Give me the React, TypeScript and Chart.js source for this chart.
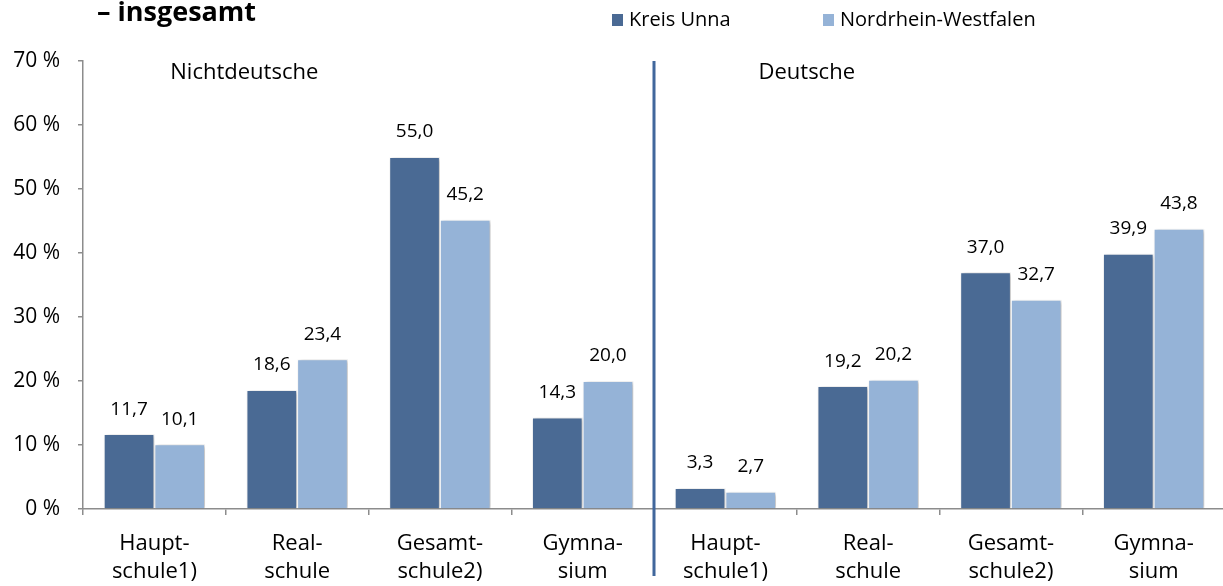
import React, { useEffect, useRef } from "react";
import { Chart, registerables } from "chart.js";

Chart.register(...registerables);

const categories: string[][] = [
  ["Haupt-", "schule1)"],
  ["Real-", "schule"],
  ["Gesamt-", "schule2)"],
  ["Gymna-", "sium"],
  ["Haupt-", "schule1)"],
  ["Real-", "schule"],
  ["Gesamt-", "schule2)"],
  ["Gymna-", "sium"],
];
const kreisUnna: number[] = [11.7, 18.6, 55.0, 14.3, 3.3, 19.2, 37.0, 39.9];
const nrw: number[] = [10.1, 23.4, 45.2, 20.0, 2.7, 20.2, 32.7, 43.8];
const seriesNames: string[] = ["Kreis Unna", "Nordrhein-Westfalen"];
const groupLabels: string[] = ["Nichtdeutsche", "Deutsche"];
const titleText = "– insgesamt";
const yTicks: number[] = [0, 10, 20, 30, 40, 50, 60, 70];

const DARK = "#4A6A94";
const LIGHT = "#95B3D7";
const FONT = "'Open Sans', 'Noto Sans', sans-serif";

const CANVAS_W = 1240;
const CANVAS_H = 586;

export default function App() {
  const ref = useRef<HTMLCanvasElement | null>(null);

  useEffect(() => {
    document.body.style.margin = "0";
    const canvas = ref.current!;
    const overlay = {
      id: "overlay",
      beforeDatasetsDraw(chart: any) {
        const ctx = chart.ctx;
        ctx.save();
        ctx.shadowColor = "rgba(0,0,0,0.28)";
        ctx.shadowBlur = 4;
        ctx.shadowOffsetX = 2;
        ctx.shadowOffsetY = 1;
      },
      afterDatasetsDraw(chart: any) {
        const ctx = chart.ctx;
        ctx.restore();
        ctx.save();
        const x = chart.scales.x;
        const area = chart.chartArea;
        // value labels
        ctx.fillStyle = "#000";
        ctx.font = `19px ${FONT}`;
        ctx.textAlign = "center";
        ctx.textBaseline = "middle";
        chart.data.datasets.forEach((ds: any, di: number) => {
          const meta = chart.getDatasetMeta(di);
          meta.data.forEach((el: any, i: number) => {
            const v = ds.data[i] as number;
            ctx.fillText(v.toFixed(1).replace(".", ","), el.x, el.y - 25);
          });
        });
        // divider
        const dx = (x.getPixelForValue(3) + x.getPixelForValue(4)) / 2;
        ctx.strokeStyle = "#41679C";
        ctx.lineWidth = 3;
        ctx.beginPath();
        ctx.moveTo(dx, area.top);
        ctx.lineTo(dx, 576);
        ctx.stroke();
        // group labels
        ctx.font = `22px ${FONT}`;
        ctx.fillStyle = "#000";
        const g1 = x.getPixelForValue(0.63);
        const g2 = x.getPixelForValue(4.57);
        ctx.fillText(groupLabels[0], g1, area.top + 12);
        ctx.fillText(groupLabels[1], g2, area.top + 12);
        // title
        ctx.font = `bold 27px ${FONT}`;
        ctx.textAlign = "left";
        ctx.textBaseline = "alphabetic";
        ctx.fillText(titleText, 97, 21);
        // legend
        ctx.font = `20px ${FONT}`;
        ctx.textBaseline = "middle";
        const legendX = [612, 823];
        chart.data.datasets.forEach((ds: any, di: number) => {
          ctx.fillStyle = ds.backgroundColor;
          ctx.fillRect(legendX[di], 14, 11, 12);
          ctx.fillStyle = "#000";
          ctx.fillText(ds.label, legendX[di] + 17, 20);
        });
        ctx.restore();
      },
    };

    const chart = new Chart(canvas, {
      type: "bar",
      data: {
        labels: categories,
        datasets: [
          {
            label: seriesNames[0],
            data: kreisUnna,
            backgroundColor: DARK,
            borderColor: "#ffffff",
            borderWidth: 1,
            categoryPercentage: 0.71,
            barPercentage: 1.0,
          },
          {
            label: seriesNames[1],
            data: nrw,
            backgroundColor: LIGHT,
            borderColor: "#ffffff",
            borderWidth: 1,
            categoryPercentage: 0.71,
            barPercentage: 1.0,
          },
        ],
      },
      options: {
        animation: false,
        responsive: false,
        layout: { padding: { left: 0, top: 61, right: CANVAS_W - 1225, bottom: 0 } },
        plugins: {
          legend: { display: false },
          title: { display: false },
          tooltip: { enabled: false },
        },
        scales: {
          x: {
            grid: {
              display: true,
              drawOnChartArea: false,
              drawTicks: true,
              tickLength: 6,
              color: "#8C8C8C",
              lineWidth: 1.5,
              offset: true,
            },
            border: { display: true, color: "#8C8C8C", width: 1.5 },
            ticks: {
              color: "#000",
              font: { family: FONT, size: 22, lineHeight: 1.27 },
              padding: 15,
              maxRotation: 0,
              autoSkip: false,
            },
            afterFit(axis: any) {
              axis.height = 77;
            },
          },
          y: {
            min: 0,
            max: 70,
            afterBuildTicks(axis: any) {
              axis.ticks = yTicks.map((v) => ({ value: v }));
            },
            grid: {
              display: true,
              drawOnChartArea: false,
              drawTicks: true,
              tickLength: 5,
              color: "#8C8C8C",
              lineWidth: 1.5,
            },
            border: { display: true, color: "#8C8C8C", width: 1.5 },
            ticks: {
              color: "#000",
              font: { family: FONT, size: 21 },
              padding: 18,
              callback: (v: any) => `${v} %`,
            },
            afterFit(axis: any) {
              axis.width = 83;
            },
          },
        },
      },
      plugins: [overlay],
    });
    return () => chart.destroy();
  }, []);

  return (
    <div
      style={{
        position: "fixed",
        left: 0,
        top: 0,
        width: 1223,
        height: 586,
        overflow: "hidden",
        background: "#fff",
      }}
    >
      <canvas ref={ref} width={CANVAS_W} height={CANVAS_H} style={{ display: "block" }} />
    </div>
  );
}
